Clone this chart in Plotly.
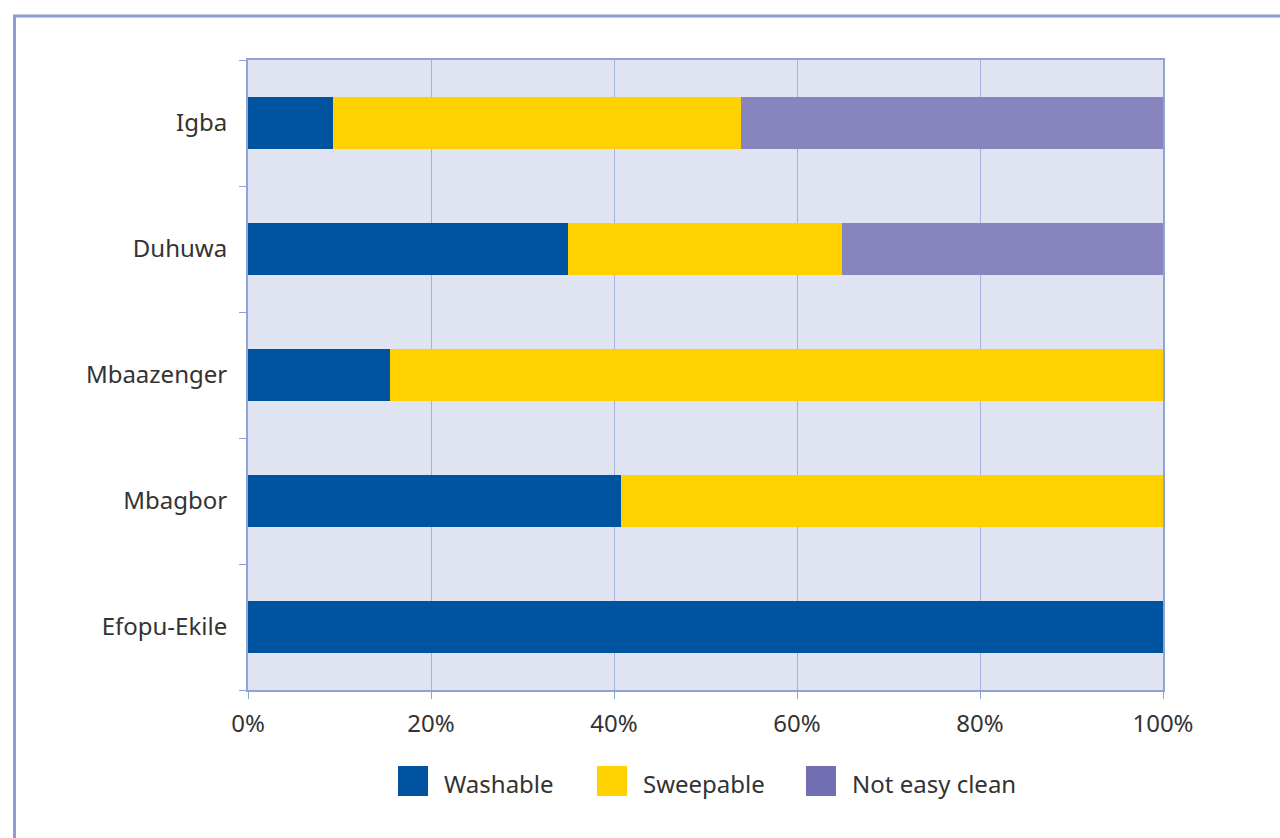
import plotly.graph_objects as go

W, H = 1280, 838

categories = ["Efopu-Ekile", "Mbagbor", "Mbaazenger", "Duhuwa", "Igba"]
washable = [100.0, 40.8, 15.5, 35.0, 9.3]
sweepable = [0.0, 59.2, 84.5, 29.9, 44.6]
not_easy = [0.0, 0.0, 0.0, 35.1, 46.1]
tick_vals = [0, 20, 40, 60, 80, 100]
tick_text = ["0%", "20%", "40%", "60%", "80%", "100%"]

series_names = ["Washable", "Sweepable", "Not easy clean"]
series_values = [washable, sweepable, not_easy]
bar_colors = ["#00539f", "#ffd100", "#8884bd"]
legend_colors = ["#00539f", "#ffd100", "#716fb2"]

fig = go.Figure()
for name, vals, col in zip(series_names, series_values, bar_colors):
    fig.add_trace(go.Bar(
        y=categories, x=vals, name=name, orientation="h",
        marker=dict(color=col, line=dict(width=0)),
    ))

axcol = "#8fa3d4"
font = dict(family="Noto Sans, Open Sans, sans-serif", size=24, color="#333333")

# manual legend (large swatches like the original)
legend_square_x = [398, 597, 806]
shapes = [dict(
    type="rect", xref="paper", yref="paper",
    x0=14.5 / W, x1=1.05, y0=-0.05, y1=1 - 16 / H,
    line=dict(color="#8a9ed0", width=3), fillcolor="rgba(0,0,0,0)",
    layer="below",
)]
annotations = []
for sx, name, col in zip(legend_square_x, series_names, legend_colors):
    shapes.append(dict(
        type="rect", xref="paper", yref="paper",
        x0=sx / W, x1=(sx + 30) / W, y0=1 - 796 / H, y1=1 - 766 / H,
        line=dict(width=0), fillcolor=col,
    ))
    annotations.append(dict(
        xref="paper", yref="paper", x=(sx + 44) / W, y=1 - 783 / H,
        xanchor="left", yanchor="middle", text=name, showarrow=False,
        font=font,
    ))

fig.update_layout(
    width=W, height=H,
    margin=dict(l=0, r=0, t=0, b=0),
    barmode="stack",
    bargap=0.58,
    plot_bgcolor="#e0e3f2",
    paper_bgcolor="white",
    font=font,
    showlegend=False,
    xaxis=dict(
        domain=[248 / W, 1163 / W], range=[0, 100],
        tickvals=tick_vals, ticktext=tick_text,
        showgrid=True, gridcolor="#a3b3db", gridwidth=1,
        showline=True, linecolor=axcol, linewidth=2, mirror=True,
        ticks="outside", ticklen=7, tickcolor=axcol, tickwidth=1,
        zeroline=False, tickfont=font, automargin=False,
        ticklabelstandoff=4,
    ),
    yaxis=dict(
        domain=[1 - 690 / H, 1 - 60 / H],
        categoryorder="array", categoryarray=categories,
        showline=True, linecolor=axcol, linewidth=2, mirror=True,
        ticks="outside", ticklen=7, tickcolor=axcol, tickwidth=1,
        tickson="boundaries", showgrid=False,
        tickfont=font, ticklabelstandoff=14, automargin=False,
    ),
    shapes=shapes,
    annotations=annotations,
)

fig.write_html("out.html")
